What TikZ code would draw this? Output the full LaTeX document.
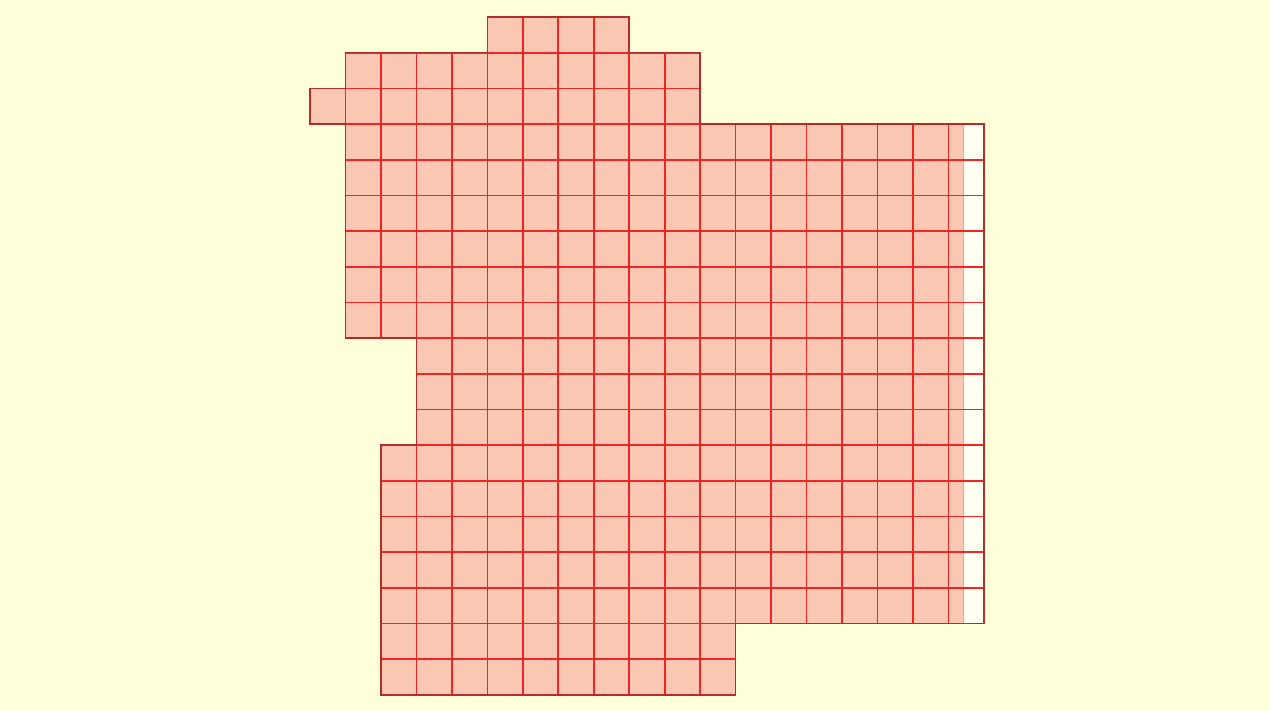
\documentclass[tikz,border=0pt]{standalone}
\definecolor{bgc}{RGB}{255,255,218}
\definecolor{cellfill}{RGB}{250,200,178}
\definecolor{gridred}{RGB}{245,35,35}
\definecolor{edgered}{RGB}{180,45,40}
\definecolor{whitecell}{RGB}{255,255,242}
\definecolor{stripblue}{RGB}{190,175,200}
\tikzset{
  cellbox/.style={fill=cellfill, draw=gridred, line width=1.7pt},
  outline/.style={draw=edgered, line width=1.6pt, line join=miter}
}
\begin{document}
\begin{tikzpicture}[x=1pt,y=-1pt]
\fill[bgc] (0,0) rectangle (1270,711);
\useasboundingbox (0,0) rectangle (1270,711);
\begin{scope}[shift={(310,17)}, x=35.47pt, y=-35.68pt]
  % row ranges: row / first col / last col
  \foreach \r/\a/\b in {0/5/8, 1/1/10, 2/0/10, 3/1/17, 4/1/17, 5/1/17, 6/1/17, 7/1/17, 8/1/17,
                        9/3/17, 10/3/17, 11/3/17, 12/2/17, 13/2/17, 14/2/17, 15/2/17, 16/2/17,
                        17/2/11, 18/2/11} {
    \foreach \c in {\a,...,\b} {
      \path[cellbox] (\c,\r) rectangle ++(1,1);
    }
  }
  % partially filled last column
  \foreach \r in {3,...,16} {
    \path[fill=whitecell] (18,\r) rectangle ++(1,1);
    \path[fill=cellfill] (18,\r) rectangle ++(0.42,1);
    \draw[stripblue, line width=1pt] (18.42,\r) -- ++(0,1);
    \path[draw=gridred, line width=1.7pt] (18,\r) rectangle ++(1,1);
  }
  \draw[outline] (5,0) -- (9,0) -- (9,1) -- (11,1) -- (11,3) -- (19,3) -- (19,17)
    -- (12,17) -- (12,19) -- (2,19) -- (2,12) -- (3,12) -- (3,9) -- (1,9) -- (1,3)
    -- (0,3) -- (0,2) -- (1,2) -- (1,1) -- (5,1) -- cycle;
\end{scope}
\end{tikzpicture}
\end{document}
